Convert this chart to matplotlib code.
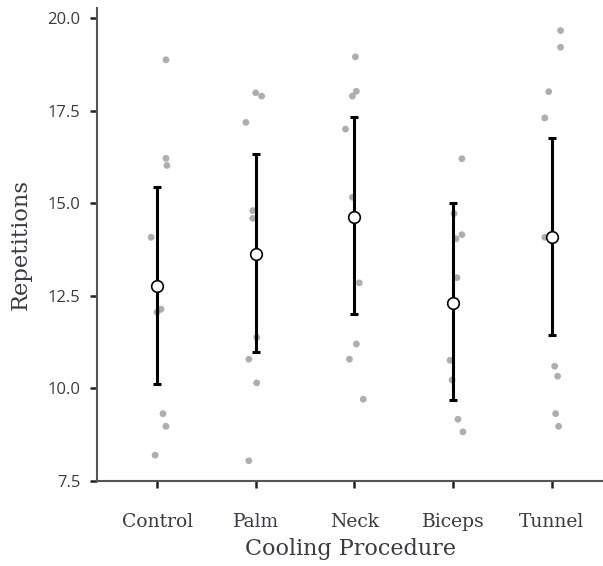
import numpy as np
import matplotlib.pyplot as plt

plt.rcParams["font.family"] = ["DejaVu Serif"]

# data
categories = ["Control", "Palm", "Neck", "Biceps", "Tunnel"]
control = [18.87, 16.21, 16.02, 14.08, 12.14, 12.06, 9.32, 8.98, 8.20]
palm = [17.98, 17.89, 17.18, 14.80, 14.59, 11.38, 10.79, 10.15, 8.05]
neck = [18.95, 18.02, 17.89, 17.00, 15.16, 12.85, 11.20, 10.79, 9.71]
biceps = [16.20, 14.72, 14.15, 14.04, 12.99, 10.76, 10.23, 9.17, 8.83]
tunnel = [19.66, 19.21, 18.01, 17.30, 14.08, 10.60, 10.33, 9.32, 8.98]
# horizontal jitter of each point, in category units
jitter_control = [0.09, 0.09, 0.10, -0.06, 0.04, 0.00, 0.06, 0.09, -0.02]
jitter_palm = [0.00, 0.06, -0.10, -0.03, -0.03, 0.01, -0.07, 0.01, -0.07]
jitter_neck = [0.01, 0.02, -0.02, -0.09, -0.02, 0.05, 0.02, -0.05, 0.09]
jitter_biceps = [0.09, 0.01, 0.09, 0.03, 0.04, -0.03, -0.01, 0.05, 0.10]
jitter_tunnel = [0.09, 0.09, -0.03, -0.07, -0.07, 0.03, 0.06, 0.04, 0.07]
means = [12.76, 13.63, 14.64, 12.31, 14.08]
err_low = [10.12, 10.99, 12.00, 9.69, 11.44]
err_high = [15.45, 16.34, 17.32, 15.00, 16.76]

groups = [control, palm, neck, biceps, tunnel]
jitters = [jitter_control, jitter_palm, jitter_neck, jitter_biceps, jitter_tunnel]

fig = plt.figure(figsize=(6.03, 5.66), dpi=100)
ax = fig.add_axes([0.161, 0.150, 0.839, 0.836])

text_col = "#3a3a44"

# raw points
for i, (vals, jit) in enumerate(zip(groups, jitters)):
    ax.scatter(np.array(jit) + i, vals, s=24, color="#8c8c8c", alpha=0.7,
               edgecolors="none", zorder=2)

# mean +/- error
x = np.arange(len(categories))
means = np.array(means)
yerr = [means - np.array(err_low), np.array(err_high) - means]
ax.errorbar(x, means, yerr=yerr, fmt="none", ecolor="black", elinewidth=2.2,
            capsize=3.2, capthick=2.2, zorder=3)
ax.scatter(x, means, s=70, facecolor="white", edgecolor="black",
           linewidth=1.2, zorder=4)

ax.set_xlim(-0.608, 4.52)
ax.set_ylim(7.5, 20.27)
ax.set_yticks([7.5, 10.0, 12.5, 15.0, 17.5, 20.0])
ax.set_yticklabels(["7.5", "10.0", "12.5", "15.0", "17.5", "20.0"],
                   family="Open Sans", fontsize=12)
ax.set_xticks(x)
ax.set_xticklabels(categories, fontsize=13.5)

for side in ["top", "right"]:
    ax.spines[side].set_visible(False)
for side in ["left", "bottom"]:
    ax.spines[side].set_color("#555555")
    ax.spines[side].set_linewidth(1.5)

ax.tick_params(axis="both", colors=text_col, length=5, width=1.8)
ax.tick_params(axis="both", color="#222222")
ax.tick_params(axis="x", pad=18)
ax.tick_params(axis="y", pad=7)

ax.set_xlabel("Cooling Procedure", fontsize=16, color=text_col, labelpad=5)
ax.set_ylabel("Repetitions", fontsize=16.3, color=text_col, labelpad=11)

fig.savefig("out.png", dpi=100)
